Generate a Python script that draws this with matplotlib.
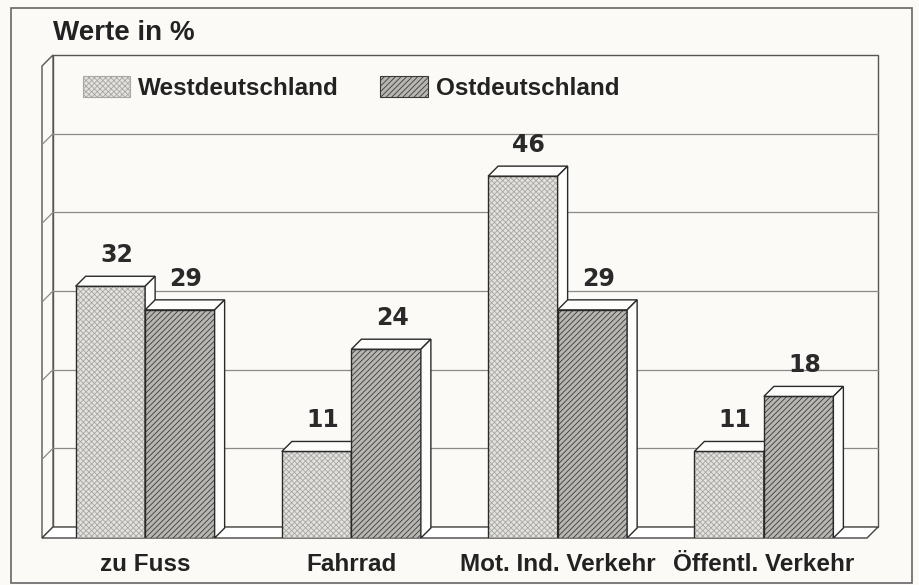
import numpy as np
import matplotlib
matplotlib.use("Agg")
import matplotlib.pyplot as plt
from matplotlib.patches import Polygon, Rectangle, Patch

plt.rcParams['font.family'] = ['Liberation Sans', 'DejaVu Sans']
plt.rcParams['hatch.linewidth'] = 0.6

categories = ["zu Fuss", "Fahrrad", "Mot. Ind. Verkehr", "Öffentl. Verkehr"]
west = [32, 11, 46, 11]
ost = [29, 24, 29, 18]
series_names = ["Westdeutschland", "Ostdeutschland"]
y_ticks = [10, 20, 30, 40, 50]
y_max = 60

W, H = 919, 585
BG = '#fbfaf6'
EDGE = '#2a2a2a'
fig = plt.figure(figsize=(W / 100, H / 100), dpi=100)
fig.patch.set_facecolor(BG)

ax = fig.add_axes([42 / W, 1 - 538 / H, (867 - 42) / W, (538 - 66) / H])
ax.set_xlim(-0.5, 3.5)
ax.set_ylim(0, y_max)
ax.patch.set_alpha(0)
for s in ax.spines.values():
    s.set_visible(False)
ax.set_yticks([])
ax.set_xticks(range(len(categories)), categories, fontsize=17.5, fontweight='bold', color='#222')
ax.tick_params(axis='x', length=0, pad=11)


def shift(x, y, dx, dy):
    d = ax.transData.transform((x, y)) + np.array([dx, dy])
    return tuple(ax.transData.inverted().transform(d))


WD = 11
BD = 10
x0, x1 = -0.5, 3.5

# back wall
ax.add_patch(Polygon([shift(x0, 0, WD, WD), shift(x1, 0, WD, WD), shift(x1, y_max, WD, WD),
                      shift(x0, y_max, WD, WD)], closed=True, facecolor=BG, edgecolor='#555',
                     lw=1.0, zorder=1, clip_on=False))
# left wall
ax.add_patch(Polygon([(x0, 0), (x0, y_max), shift(x0, y_max, WD, WD), shift(x0, 0, WD, WD)],
                     closed=True, facecolor=BG, edgecolor='#555', lw=1.0, zorder=1, clip_on=False))
# floor
ax.add_patch(Polygon([(x0, 0), (x1, 0), shift(x1, 0, WD, WD), shift(x0, 0, WD, WD)],
                     closed=True, facecolor='#ffffff', edgecolor='#444', lw=1.0, zorder=1, clip_on=False))
# grid lines
for v in y_ticks:
    a = shift(x0, v, WD, WD)
    b = shift(x1, v, WD, WD)
    ax.plot([a[0], b[0]], [a[1], b[1]], color='#8a8a8a', lw=0.9, zorder=2, clip_on=False)
    ax.plot([x0, a[0]], [v, a[1]], color='#8a8a8a', lw=0.9, zorder=2, clip_on=False)

w = 0.337
styles = [
    dict(face='#e4e2de', hatch='xxxxxx', hcol='#a9a7a3'),
    dict(face='#b8b6b2', hatch='//////', hcol='#3a3a3a'),
]
z = 3
for i in range(len(categories)):
    for k, vals in enumerate([west, ost]):
        h = vals[i]
        xc = i - w / 2 if k == 0 else i + w / 2
        l, r = xc - w / 2, xc + w / 2
        st = styles[k]
        ax.bar(xc, h, width=w, color=st['face'], edgecolor=st['hcol'], hatch=st['hatch'],
               lw=0, zorder=z)
        ax.bar(xc, h, width=w, fill=False, edgecolor=EDGE, lw=1.0, zorder=z + 0.1)
        ax.add_patch(Polygon([(l, h), (r, h), shift(r, h, BD, BD), shift(l, h, BD, BD)], closed=True,
                             facecolor='#fdfdfb', edgecolor=EDGE, lw=1.0, zorder=z + 0.2))
        ax.add_patch(Polygon([(r, 0), (r, h), shift(r, h, BD, BD), shift(r, 0, BD, BD)], closed=True,
                             facecolor='#fdfdfb', edgecolor=EDGE, lw=1.0, zorder=z + 0.2))
        ax.annotate(str(h), xy=(xc, h), xytext=(BD / 2 + 1, BD + 9), textcoords='offset pixels',
                    ha='center', va='bottom', fontsize=17, fontweight='bold', color='#2a2a2a',
                    family=['DejaVu Sans'], zorder=20)
        z += 1

# legend
handles = [Patch(facecolor=styles[k]['face'], edgecolor=styles[k]['hcol'], hatch=styles[k]['hatch'],
                 lw=0.8) for k in range(2)]
fig.legend(handles, series_names, loc='upper left', bbox_to_anchor=(83 / W, 1 - 76 / H),
           frameon=False, borderpad=0, borderaxespad=0, ncol=2,
           prop=dict(weight='bold', size=17.5), handlelength=1.95, handleheight=0.95,
           handletextpad=0.33, columnspacing=1.7, labelcolor='#222')

fig.text(53 / W, 1 - 33 / H, "Werte in %", fontsize=20, fontweight='bold', color='#222',
         ha='left', va='center')

fig.add_artist(Rectangle((11 / W, 1 - 583 / H), (912 - 11) / W, (583 - 8) / H,
                         transform=fig.transFigure, fill=False, ec='#666', lw=1.2))

fig.savefig("out.png", dpi=100, facecolor=BG)
